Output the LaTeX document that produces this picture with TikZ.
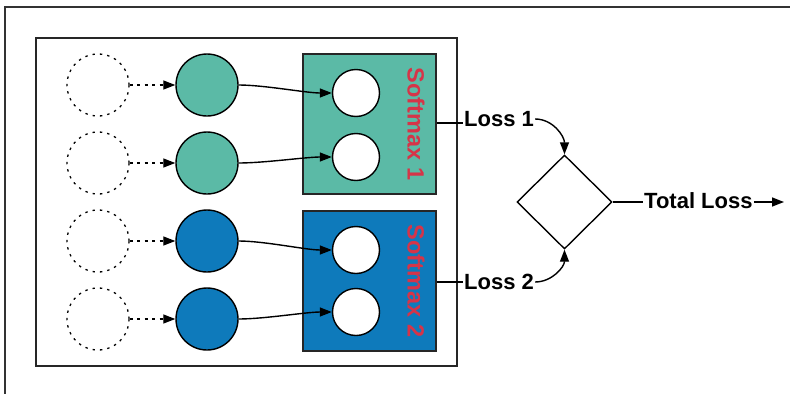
\documentclass[tikz,border=0pt]{standalone}
\usepackage{fontspec}
\setmainfont{Liberation Sans}
\usetikzlibrary{arrows.meta,shapes.geometric}
\definecolor{tealfill}{RGB}{91,186,166}
\definecolor{bluefill}{RGB}{14,122,187}
\definecolor{smxred}{RGB}{214,52,72}
\tikzset{
  ghost/.style={circle,draw,dash pattern=on 2.4pt off 5pt,line width=1.3pt,minimum size=62pt,inner sep=0pt},
  unit/.style={circle,draw,line width=1.4pt,minimum size=62pt,inner sep=0pt},
  outunit/.style={circle,draw,fill=white,line width=1.4pt,minimum size=47pt,inner sep=0pt},
  smxbox/.style={draw=black!85,line width=1.6pt},
  smxlabel/.style={rotate=-90,text=smxred,font=\fontsize{23.5}{26}\selectfont\bfseries},
  losslabel/.style={font=\fontsize{22}{24}\selectfont\bfseries,inner sep=1pt},
  tip/.style={-{Triangle[length=12pt,width=9pt]}},
  link/.style={tip,line width=1.4pt},
}
\begin{document}
\begin{tikzpicture}[x=1pt,y=-1pt]
\useasboundingbox (0,0) rectangle (790,394);
% page frame: top and left edges only
\draw[line width=1.2pt,black!80] (790,7) -- (5,7) -- (5,394);
% network frame
\draw[line width=1.5pt,black!85] (36,38) rectangle (457,366);
% softmax boxes
\node[smxbox,fill=tealfill,minimum width=133pt,minimum height=140pt,inner sep=0pt] (sm1) at (369.5,124) {};
\node[smxbox,fill=bluefill,minimum width=133pt,minimum height=140pt,inner sep=0pt] (sm2) at (369.5,281) {};
\node[smxlabel] at (416,124) {Softmax 1};
\node[smxlabel] at (416,281) {Softmax 2};
% input placeholders
\node[ghost] (g1) at (98,85) {};
\node[ghost] (g2) at (98,163) {};
\node[ghost] (g3) at (98,241) {};
\node[ghost] (g4) at (98,319) {};
% hidden units
\node[unit,fill=tealfill] (h1) at (207,85) {};
\node[unit,fill=tealfill] (h2) at (207,163) {};
\node[unit,fill=bluefill] (h3) at (207,241) {};
\node[unit,fill=bluefill] (h4) at (207,319) {};
% softmax outputs
\node[outunit] (o1) at (356,93) {};
\node[outunit] (o2) at (356,157) {};
\node[outunit] (o3) at (356,250) {};
\node[outunit] (o4) at (356,312) {};
% dashed feeds
\foreach \i in {1,2,3,4}
  \draw[tip,line width=1.3pt,dash pattern=on 3pt off 4.5pt] (g\i) -- (h\i);
% unit to output links
\foreach \i in {1,2,3,4}
  \draw[link] (h\i.east) to[out=0,in=180,looseness=0.7] (o\i.west);
% combiner
\node[diamond,draw,line width=1.4pt,minimum width=95pt,minimum height=94pt,inner sep=0pt] (comb) at (564.5,202) {};
% losses
\node[losslabel,anchor=west] (l1) at (463,119) {Loss 1};
\node[losslabel,anchor=west] (l2) at (463,282) {Loss 2};
\draw[line width=1.4pt] (sm1.east |- 0,123) -- (l1.west |- 0,123);
\draw[line width=1.4pt] (sm2.east |- 0,282) -- (l2.west |- 0,282);
\draw[link] (l1.east) to[out=0,in=90] (comb.north);
\draw[link] (l2.east) to[out=0,in=-90] (comb.south);
% total
\node[losslabel,anchor=west] (tot) at (643,201) {Total Loss};
\draw[line width=1.4pt] (comb.east) -- (tot.west |- comb.east);
\coordinate (out) at (784,202);
\draw[link] (tot.east |- out) -- (out);
\end{tikzpicture}
\end{document}
